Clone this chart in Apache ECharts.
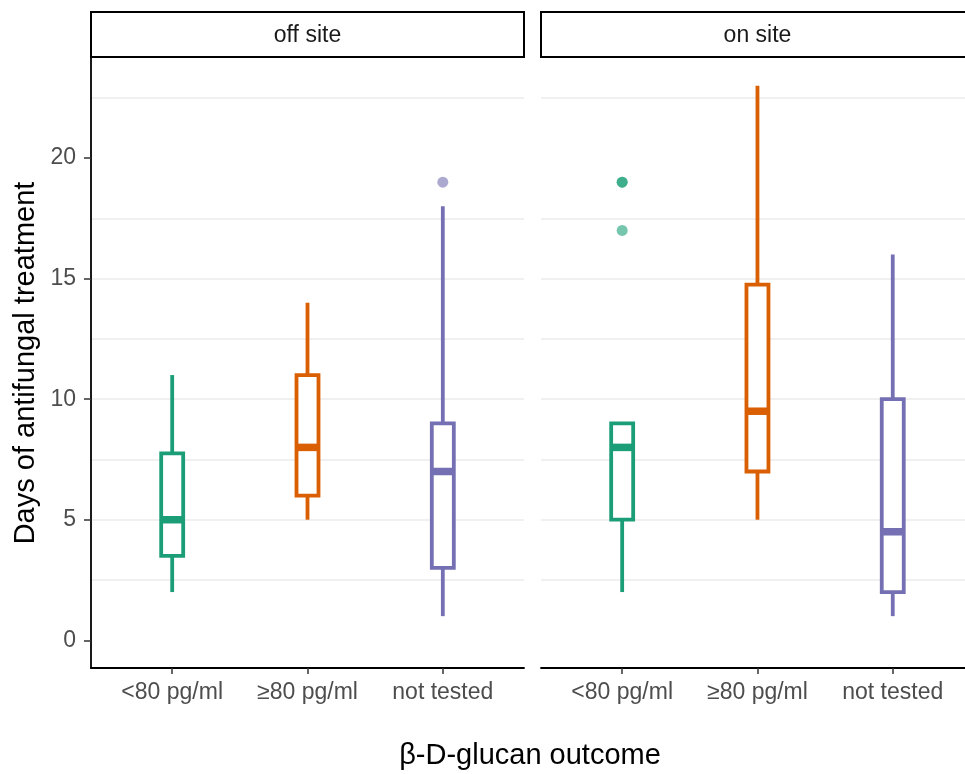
<!DOCTYPE html>
<html>
<head>
<meta charset="utf-8">
<script src="https://cdn.jsdelivr.net/npm/echarts@6/dist/echarts.min.js"></script>
<style>
  html, body { margin: 0; padding: 0; background: #fff; }
  #chart { width: 965px; height: 774px; }
</style>
</head>
<body>
<div id="chart"></div>
<script>
const categories = ['<80 pg/ml', '≥80 pg/ml', 'not tested']
const panels = ['off site', 'on site']
// [category index, lower whisker, Q1, median, Q3, upper whisker]
const offSiteBoxes = [
  [0, 2, 3.5, 5, 7.75, 11],
  [1, 5, 6, 8, 11, 14],
  [2, 1, 3, 7, 9, 18],
]
const onSiteBoxes = [
  [0, 2, 5, 8, 9, 9],
  [1, 5, 7, 9.5, 14.75, 23],
  [2, 1, 2, 4.5, 10, 16],
]
// [category index, value]
const offSiteOutliers = [[2, 19]]
const onSiteOutliers = [[0, 19], [0, 19], [0, 17]]
const yTicks = [0, 5, 10, 15, 20]

const colors = ['#1B9E77', '#D95F02', '#7570B3']
const FONT = 'Liberation Sans, Arial, sans-serif'

const chart = echarts.init(document.getElementById('chart'))

// right panel runs past the canvas edge, so its x range is cut to match
const grids = [
  { left: 91, top: 58, width: 433, height: 610 },
  { left: 541, top: 58, right: 0, height: 610 },
]
const xMax = [2.6, 2.534]

const renderBox = (params, api) => {
  const x = api.value(0)
  const lo = api.coord([x, api.value(1)])
  const q1 = api.coord([x, api.value(2)])
  const md = api.coord([x, api.value(3)])
  const q3 = api.coord([x, api.value(4)])
  const hi = api.coord([x, api.value(5)])
  const half = 11
  const c = colors[x]
  return {
    type: 'group',
    children: [
      { type: 'line', shape: { x1: lo[0], y1: lo[1], x2: q1[0], y2: q1[1] }, style: { stroke: c, lineWidth: 3.8 } },
      { type: 'line', shape: { x1: q3[0], y1: q3[1], x2: hi[0], y2: hi[1] }, style: { stroke: c, lineWidth: 3.8 } },
      {
        type: 'rect',
        shape: { x: q1[0] - half, y: q3[1], width: half * 2, height: q1[1] - q3[1] },
        style: { fill: '#fff', stroke: c, lineWidth: 3.8 },
      },
      { type: 'line', shape: { x1: md[0] - half, y1: md[1], x2: md[0] + half, y2: md[1] }, style: { stroke: c, lineWidth: 7.5 } },
    ],
  }
}

const xAxisFor = i => ({
  type: 'value',
  gridIndex: i,
  min: -0.6,
  max: xMax[i],
  axisLine: { show: true, onZero: false, lineStyle: { color: '#000', width: 1.8 } },
  axisTick: { show: true, length: 6, customValues: [0, 1, 2], lineStyle: { color: '#333', width: 1.5 } },
  axisLabel: {
    customValues: [0, 1, 2],
    formatter: v => categories[Math.round(v)] || '',
    color: '#4d4d4d',
    fontSize: 23,
    fontFamily: FONT,
    margin: 13,
  },
  splitLine: { show: false },
})

const yAxisFor = i => ({
  type: 'value',
  gridIndex: i,
  min: -1.15,
  max: 24.15,
  axisLine: { show: i === 0, onZero: false, lineStyle: { color: '#000', width: 1.8 } },
  axisTick: { show: i === 0, length: 7, customValues: yTicks, lineStyle: { color: '#333', width: 1.5 } },
  axisLabel: {
    show: i === 0,
    customValues: yTicks,
    color: '#4d4d4d',
    fontSize: 23,
    fontFamily: FONT,
    margin: 15,
  },
  splitLine: { show: true, showMinLine: false, showMaxLine: false, lineStyle: { color: '#ebebeb', width: 1.5 } },
  minorTick: { show: false, splitNumber: 2 },
  minorSplitLine: { show: true, lineStyle: { color: '#ebebeb', width: 1.5 } },
  name: i === 0 ? 'Days of antifungal treatment' : '',
  nameLocation: 'middle',
  nameGap: 51,
  nameTextStyle: { color: '#000', fontSize: 29, fontFamily: FONT },
})

const strip = (x, w, label) => ({
  type: 'group',
  children: [
    {
      type: 'rect',
      shape: { x: x, y: 12, width: w, height: 45 },
      style: { fill: '#fff', stroke: '#000', lineWidth: 2 },
    },
    {
      type: 'text',
      x: x + w / 2,
      y: 36,
      style: { text: label, fill: '#1a1a1a', font: '23px ' + FONT, align: 'center', verticalAlign: 'middle' },
    },
  ],
})

chart.setOption({
  backgroundColor: '#fff',
  animation: false,
  grid: grids,
  xAxis: [xAxisFor(0), xAxisFor(1)],
  yAxis: [yAxisFor(0), yAxisFor(1)],
  graphic: [
    strip(91, 433, panels[0]),
    strip(541, 433, panels[1]),
    {
      type: 'text',
      x: 530,
      y: 756,
      style: { text: 'β-D-glucan outcome', fill: '#000', font: '29px ' + FONT, align: 'center', verticalAlign: 'middle' },
    },
  ],
  series: [
    {
      type: 'custom',
      xAxisIndex: 0,
      yAxisIndex: 0,
      renderItem: renderBox,
      encode: { x: 0, y: [1, 2, 3, 4, 5] },
      data: offSiteBoxes,
    },
    {
      type: 'custom',
      xAxisIndex: 1,
      yAxisIndex: 1,
      renderItem: renderBox,
      encode: { x: 0, y: [1, 2, 3, 4, 5] },
      data: onSiteBoxes,
    },
    {
      type: 'scatter',
      xAxisIndex: 0,
      yAxisIndex: 0,
      symbolSize: 11,
      itemStyle: { color: p => colors[p.value[0]], opacity: 0.6 },
      data: offSiteOutliers,
    },
    {
      type: 'scatter',
      xAxisIndex: 1,
      yAxisIndex: 1,
      symbolSize: 11,
      itemStyle: { color: p => colors[p.value[0]], opacity: 0.6 },
      data: onSiteOutliers,
    },
  ],
})
</script>
</body>
</html>
